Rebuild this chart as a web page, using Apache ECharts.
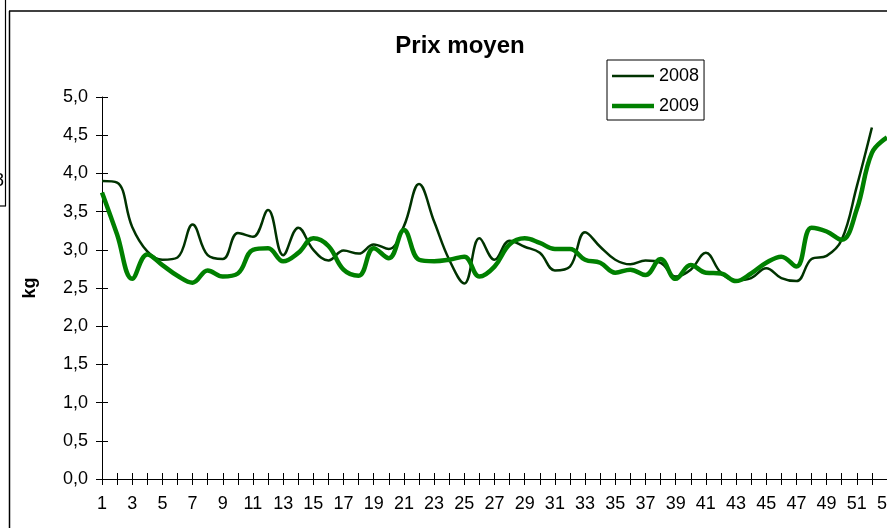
<!DOCTYPE html>
<html>
<head>
<meta charset="utf-8">
<script src="https://cdn.jsdelivr.net/npm/echarts@6/dist/echarts.min.js"></script>
<style>
html,body{margin:0;padding:0;background:#fff;}
#chart{width:887px;height:528px;}
</style>
</head>
<body>
<div id="chart"></div>
<script>
var weeks = [];
for (var w = 1; w <= 53; w++) weeks.push(String(w));

var series2008 = [3.90, 3.88, 3.30, 2.98, 2.87, 2.90, 3.33, 2.93, 2.88, 3.22,
                  3.17, 3.52, 2.93, 3.29, 3.00, 2.86, 2.99, 2.95, 3.07, 3.01,
                  3.31, 3.86, 3.37, 2.87, 2.56, 3.15, 2.87, 3.12, 3.04, 2.96,
                  2.73, 2.78, 3.23, 3.04, 2.87, 2.81, 2.86, 2.83, 2.65, 2.74,
                  2.96, 2.70, 2.60, 2.63, 2.76, 2.63, 2.59, 2.88, 2.92, 3.13,
                  3.83, 4.60, null];

var series2009 = [3.75, 3.20, 2.62, 2.94, 2.80, 2.66, 2.57, 2.73, 2.65, 2.69,
                  3.00, 3.02, 2.85, 2.96, 3.15, 3.05, 2.74, 2.66, 3.02, 2.89,
                  3.26, 2.87, 2.85, 2.87, 2.91, 2.65, 2.78, 3.07, 3.15, 3.09,
                  3.01, 3.01, 2.87, 2.83, 2.70, 2.74, 2.67, 2.88, 2.62, 2.80,
                  2.70, 2.69, 2.59, 2.69, 2.83, 2.91, 2.78, 3.29, 3.24, 3.13,
                  3.53, 4.27, 4.47];

var seriesNames = ['2008', '2009'];

var chart = echarts.init(document.getElementById('chart'));
var font = 'Liberation Sans, Arial, sans-serif';
var yFmt = function (v) { return v.toFixed(1).replace('.', ','); };

chart.setOption({
  animation: false,
  backgroundColor: '#fff',
  title: {
    text: 'Prix moyen',
    left: 455, top: 29, textAlign: 'center',
    textStyle: { fontFamily: font, fontSize: 24, fontWeight: 'bold', color: '#000' }
  },
  legend: {
    orient: 'vertical',
    left: 607, top: 60,
    padding: [6, 5, 4, 5],
    itemWidth: 42, itemHeight: 14, itemGap: 10,
    borderColor: '#000', borderWidth: 1,
    textStyle: { fontFamily: font, fontSize: 18, color: '#000', lineHeight: 20 },
    itemStyle: { borderWidth: 0 },
    lineStyle: { width: 0 },
    data: [
      { name: seriesNames[0], icon: 'path://M0,0M42,14M0,5.75h42v2.5h-42z', itemStyle: { color: '#003300', borderWidth: 0 } },
      { name: seriesNames[1], icon: 'path://M0,0M42,14M0,4.75h42v4.5h-42z', itemStyle: { color: '#008000', borderWidth: 0 } }
    ]
  },
  grid: { left: 102, right: 0, top: 97, bottom: 49, containLabel: false, outerBoundsMode: 'none' },
  xAxis: [{
    type: 'category', data: weeks, boundaryGap: false, position: 'bottom',
    axisLine: { lineStyle: { color: '#000', width: 1 } },
    axisTick: { show: true, inside: false, length: 6, interval: 0, lineStyle: { color: '#000' } },
    axisLabel: { interval: 1, margin: 16, fontFamily: font, fontSize: 18, color: '#000' },
    splitLine: { show: false }
  }, {
    type: 'category', data: weeks, boundaryGap: false, position: 'bottom',
    axisLine: { show: false },
    axisTick: { show: true, inside: true, length: 6, interval: 0, lineStyle: { color: '#000' } },
    axisLabel: { show: false },
    splitLine: { show: false }
  }],
  yAxis: [{
    type: 'value', min: 0, max: 5, interval: 0.5, position: 'left',
    name: 'kg', nameLocation: 'middle', nameRotate: 90, nameGap: 63,
    nameTextStyle: { fontFamily: font, fontSize: 18, fontWeight: 'bold', color: '#000' },
    axisLine: { show: true, lineStyle: { color: '#000', width: 1 } },
    axisTick: { show: true, inside: false, length: 6, lineStyle: { color: '#000' } },
    axisLabel: { margin: 14, formatter: yFmt, fontFamily: font, fontSize: 18, color: '#000' },
    splitLine: { show: false }
  }, {
    type: 'value', min: 0, max: 5, interval: 0.5, position: 'left',
    axisLine: { show: false },
    axisTick: { show: true, inside: true, length: 6, lineStyle: { color: '#000' } },
    axisLabel: { show: false },
    splitLine: { show: false }
  }],
  series: [{
    name: seriesNames[0], type: 'line', data: series2008,
    xAxisIndex: 0, yAxisIndex: 0,
    smooth: 0.4, symbol: 'none', connectNulls: false,
    lineStyle: { color: '#003300', width: 2.5 },
    itemStyle: { color: '#003300' }
  }, {
    name: seriesNames[1], type: 'line', data: series2009,
    xAxisIndex: 0, yAxisIndex: 0,
    smooth: 0.4, symbol: 'none',
    lineStyle: { color: '#008000', width: 4.5 },
    itemStyle: { color: '#008000' }
  }],
  graphic: [
    { type: 'line', shape: { x1: 9.5, y1: 11, x2: 9.5, y2: 528 }, style: { stroke: '#000', lineWidth: 1.5 } },
    { type: 'line', shape: { x1: 9, y1: 11, x2: 887, y2: 11 }, style: { stroke: '#000', lineWidth: 1.5 } },
    { type: 'line', shape: { x1: 5.5, y1: 0, x2: 5.5, y2: 206 }, style: { stroke: '#000', lineWidth: 1.2 } },
    { type: 'line', shape: { x1: 0, y1: 206, x2: 6, y2: 206 }, style: { stroke: '#000', lineWidth: 1.2 } },
    { type: 'text', x: 4, y: 181, style: { text: '8', fontFamily: font, fontSize: 18, fill: '#000', align: 'right', verticalAlign: 'middle' } }
  ]
});
</script>
</body>
</html>
